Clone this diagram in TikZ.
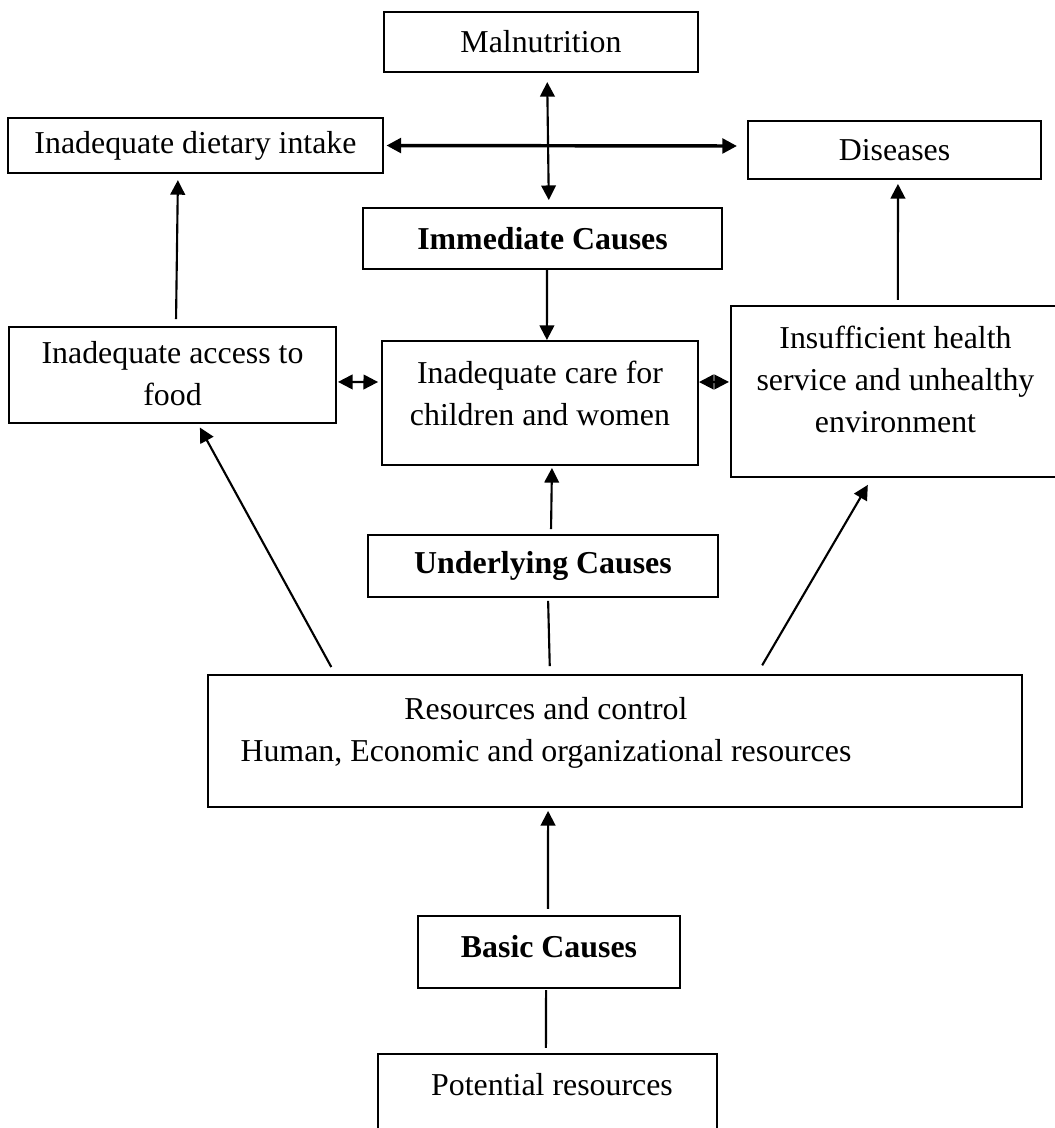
\documentclass[tikz,border=0pt]{standalone}
\usepackage{fontspec}
\setmainfont{Liberation Serif}
\usetikzlibrary{arrows.meta}

\begin{document}
\begin{tikzpicture}[x=0.3766pt,y=-0.3766pt,
  every path/.style={>={Triangle[length=5.5pt,width=5.5pt]},line width=0.8pt},
  every node/.style={draw,rectangle,align=center,inner sep=0pt,line width=0.75pt,
    font=\fontsize{12}{15.8}\selectfont}]
\useasboundingbox (0,0) rectangle (1055,1128);
\node[minimum width=118.3pt,minimum height=22.6pt] (mal)   at (541,42)     {Malnutrition};
\node[minimum width=140.9pt,minimum height=20.7pt] (diet)  at (195.5,145.5) {Inadequate dietary intake};
\node[minimum width=110.3pt,minimum height=21.8pt] (dis)   at (894.5,150)  {Diseases};
\node[minimum width=135.2pt,minimum height=23pt]   (imm)   at (542.5,238.5) {\textbf{Immediate Causes}};
\node[minimum width=123.1pt,minimum height=36.2pt,text depth=1.5pt] (acc) at (172.5,375)
      {Inadequate access to\\food};
\node[minimum width=119pt,minimum height=46.7pt,text depth=7.6pt] (care) at (540,403)
      {Inadequate care for\\children and women};
\node[minimum width=123.9pt,minimum height=64.4pt,text depth=9pt] (ins) at (895.5,391.5)
      {Insufficient health\\service and unhealthy\\environment};
\node[minimum width=131.8pt,minimum height=23.3pt] (und)   at (543,566)    {\textbf{Underlying Causes}};
\node[minimum width=306.6pt,minimum height=49.7pt,text depth=9pt] (res) at (615,741)
      {Resources and control\kern52pt\\Human, Economic and organizational resources\kern52pt};
\node[minimum width=98.7pt,minimum height=27.1pt,text depth=4.5pt] (basic) at (549,952) {\textbf{Basic Causes}};
\node[minimum width=127.7pt,minimum height=32.4pt,text depth=9.8pt] (pot) at (547.5,1097)
      {\kern3.4pt Potential resources};
% immediate level
\draw[<->,shorten <=3.4pt,shorten >=2.6pt] ([xshift=2.3pt]mal.south) -- ([xshift=2.4pt]imm.north);
\draw[<->,line width=1.3pt,shorten <=1.1pt,shorten >=3.8pt] (diet.east) -- ([yshift=1.5pt]dis.west);
\draw[->]                                  ([xshift=1.7pt]imm.south) -- ([xshift=2.6pt]care.north);
\draw[->,shorten <=2.6pt,shorten >=2.3pt]  ([xshift=1.3pt]acc.north) -- ([xshift=-6.6pt]diet.south);
\draw[->,shorten <=1.9pt,shorten >=1.5pt]  ([xshift=0.9pt]ins.north) -- ([xshift=1.3pt]dis.south);
% underlying level
\draw[<->,shorten <=0.4pt,shorten >=1.1pt] ([yshift=-2.6pt]acc.east) -- ([yshift=7.9pt]care.west);
\draw[<->,shorten >=0.4pt]                 ([yshift=7.9pt]care.east) -- ([yshift=3.6pt]ins.west);
\draw[->,shorten <=1.9pt,shorten >=0.75pt] ([xshift=3pt]und.north) -- ([xshift=4.5pt]care.south);
\draw[shorten <=3pt,shorten >=1.1pt]       ([xshift=-24.5pt]res.north) -- ([xshift=1.9pt]und.south);
\draw[->,shorten <=3pt,shorten >=1.5pt]    ([xshift=-105.4pt]res.north) -- ([xshift=9.6pt]acc.south);
\draw[->,shorten <=3.8pt,shorten >=3pt]    ([xshift=53.5pt]res.north) -- ([xshift=-8.9pt]ins.south);
% basic level
\draw[->,shorten <=2.3pt,shorten >=1.1pt]  ([xshift=-0.4pt]basic.north) -- ([xshift=-25.2pt]res.south);
\draw[shorten <=1.9pt,shorten >=0.4pt]     ([xshift=-0.6pt]pot.north) -- ([xshift=-1.1pt]basic.south);
\end{tikzpicture}
\end{document}
